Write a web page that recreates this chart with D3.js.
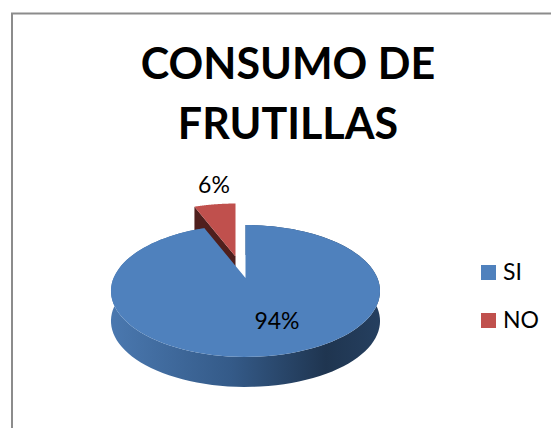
<!doctype html>
<html lang="en">
<head>
  <title>Consumo de frutillas</title>
  <meta charset="utf-8">
  <script src="https://d3js.org/d3.v7.min.js"></script>
  <style>
    html, body { margin: 0; background: #fff; }
    svg { display: block; }
    text { font-family: Lato, "Open Sans", sans-serif; fill: #000; }
  </style>
</head>
<body>
<svg id="chart" width="551" height="428"></svg>
<script>
  var categories = ["SI", "NO"];
  var values = [94, 6];
  var labels = ["94%", "6%"];
  var titleLines = ["CONSUMO DE", "FRUTILLAS"];

  var colors = d3.scaleOrdinal().domain(categories).range(["#4f81bd", "#c0504d"]);

  var svg = d3.select("#chart");

  // frame, only top and left show in the crop
  svg.append("path")
     .attr("d", "M12,428V13.5H551")
     .attr("fill", "none")
     .attr("stroke", "#8c8c8c")
     .attr("stroke-width", 2);

  svg.append("text")
     .attr("text-anchor", "middle")
     .attr("font-weight", 700)
     .attr("font-size", 43)
     .selectAll("tspan")
     .data(titleLines)
     .enter().append("tspan")
     .attr("x", 288)
     .attr("y", function(d, i) { return 79 + i * 60; })
     .text(function(d) { return d; });

  var slices = d3.pie().sort(null)(values);

  // tilted circle: the far side is squeezed so the centre sits above the ellipse middle
  var cx = 245.5, cy = 278, scaleX = 131.9, scaleY = 63.4, persp = 0.197, depth = 30;
  function project(a, r) {
    var u = r * Math.sin(a), v = r * Math.cos(a), w = 1 + persp * v;
    return [cx + scaleX * u / w, cy - scaleY * v / w];
  }
  function rim(start, end) {
    return d3.range(0, 121).map(function(i) {
      return project(start + (end - start) * i / 120, 1);
    });
  }
  var line = d3.line();
  function shift(p, dx, dy) { return p.map(function(d) { return [d[0] + dx, d[1] + dy]; }); }

  var defs = svg.append("defs");
  var grad = defs.append("linearGradient")
     .attr("id", "side")
     .attr("gradientUnits", "userSpaceOnUse")
     .attr("x1", cx - 134).attr("x2", cx + 134).attr("y1", 0).attr("y2", 0);
  grad.append("stop").attr("offset", "0").attr("stop-color", "#4a78af");
  grad.append("stop").attr("offset", "0.45").attr("stop-color", "#345a88");
  grad.append("stop").attr("offset", "0.8").attr("stop-color", "#1f3550");
  grad.append("stop").attr("offset", "1").attr("stop-color", "#253f5f");

  // NO slice is pulled out, drawn first so the blue top covers its wall
  var no = slices[1];
  var noDx = -10, noDy = -21.5;
  var noRim = shift(rim(no.startAngle, no.endAngle), noDx, noDy);
  var noApex = [cx + noDx, cy + noDy];
  var noEdge = noRim[0];
  svg.append("path")
     .attr("d", line([noEdge, noApex, [noApex[0], noApex[1] + depth], [noEdge[0], noEdge[1] + depth]]) + "Z")
     .attr("fill", "#4f1f1d");
  svg.append("path")
     .attr("d", line([noApex].concat(noRim)) + "Z")
     .attr("fill", colors("NO"));

  // SI slice wall and top
  var si = slices[0];
  var siRim = rim(si.startAngle, si.endAngle);
  svg.append("path")
     .attr("d", line(siRim.concat(shift(siRim, 0, depth).reverse())) + "Z")
     .attr("fill", "url(#side)");
  svg.append("path")
     .attr("d", line([[cx, cy]].concat(siRim)) + "Z")
     .attr("fill", colors("SI"));

  svg.append("text")
     .attr("x", 277).attr("y", 329)
     .attr("text-anchor", "middle").attr("font-size", 23)
     .text(labels[0]);
  svg.append("text")
     .attr("x", 214).attr("y", 193)
     .attr("text-anchor", "middle").attr("font-size", 23)
     .text(labels[1]);

  var legend = svg.selectAll(".legend")
     .data(categories)
     .enter().append("g")
     .attr("class", "legend")
     .attr("transform", function(d, i) { return "translate(481," + (265 + i * 48) + ")"; });
  legend.append("rect")
     .attr("width", 15).attr("height", 15)
     .attr("fill", function(d) { return colors(d); });
  legend.append("text")
     .attr("x", 22).attr("y", 15)
     .attr("font-size", 23)
     .text(function(d) { return d; });
</script>
</body>
</html>
